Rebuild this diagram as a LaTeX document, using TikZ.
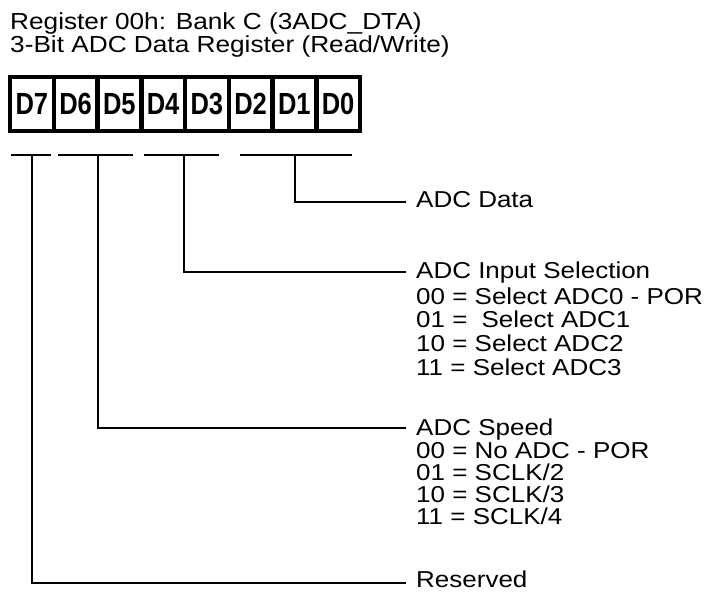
\documentclass[tikz,border=0pt]{standalone}
\usepackage{fontspec}
\setmainfont{Liberation Sans}
\newfontfamily\widesans[FakeStretch=1.13]{Liberation Sans}
\usetikzlibrary{calc, positioning}

\begin{document}
\begin{tikzpicture}[x=1pt, y=-1pt,
  ttl/.style={font=\widesans\fontsize{23.2}{24}\selectfont, inner sep=0pt, anchor=base west},
  lbl/.style={font=\widesans\fontsize{23}{24}\selectfont, inner sep=0pt, anchor=base west},
  bitcell/.style={draw, line width=4.5pt, minimum width=43.75pt, minimum height=54pt,
    inner sep=0pt, font=\bfseries\fontsize{25.5}{25}\selectfont},
  wire/.style={line width=2pt}]
  \useasboundingbox (0,0) rectangle (710,595);
  % heading
  \node[ttl] (title) at (10,29) {Register 00h: Bank C (3ADC\_DTA)};
  \node[ttl] (subtitle) at (10,52) {3-Bit ADC Data Register (Read/Write)};
  % the eight bit cells
  \foreach \b [count=\i from 0] in {7,...,0}
    \node[bitcell] (d\b) at ({10+43.75*(\i+0.5)},104) {\scalebox{1}[1.2]{D\b}};
  % field bars under the cells
  \draw[wire] (11,155) -- (51,155);
  \draw[wire] (58,155) -- (133,155);
  \draw[wire] (144,155) -- (219,155);
  \draw[wire] (240,155) -- (352,155);
  \coordinate (f7) at (32,155);
  \coordinate (f65) at (98,155);
  \coordinate (f43) at (184,155);
  \coordinate (f20) at (295,155);
  % field descriptions
  \node[lbl] (data) at (416,207) {ADC Data};
  \node[lbl] (insel) at (416,278) {ADC Input Selection};
  \foreach \t [count=\k from 0] in {{00 = Select ADC0 - POR},{01 =\hspace{0.3em} Select ADC1},
      {10 = Select ADC2},{11 = Select ADC3}}
    \node[lbl] (insel\k) at (416,{304+23.7*\k}) {\t};
  \node[lbl] (speed) at (416,435) {ADC Speed};
  \foreach \t [count=\k from 0] in {{00 = No ADC - POR},{01 = SCLK/2},{10 = SCLK/3},{11 = SCLK/4}}
    \node[lbl] (speed\k) at (416,{458+22.3*\k}) {\t};
  \node[lbl] (resv) at (416,587) {Reserved};
  % leaders
  \draw[wire] (f20) |- ([xshift=-10pt,yshift=5pt]data.base west);
  \draw[wire] (f43) |- ([xshift=-10pt,yshift=6pt]insel.base west);
  \draw[wire] (f65) |- ([xshift=-10pt,yshift=7pt]speed.base west);
  \draw[wire] (f7) |- ([xshift=-10pt,yshift=4pt]resv.base west);
\end{tikzpicture}
\end{document}
